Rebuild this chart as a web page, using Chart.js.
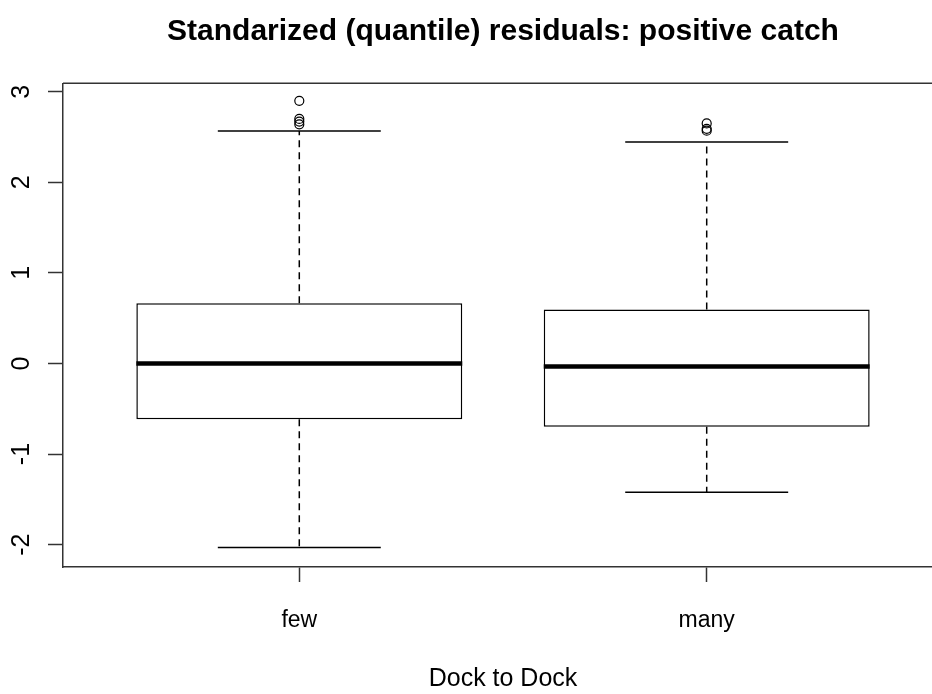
<!DOCTYPE html>
<html>
<head>
<meta charset="utf-8">
<title>Standarized (quantile) residuals: positive catch</title>
<script src="https://cdn.jsdelivr.net/npm/chart.js@4/dist/chart.umd.min.js"></script>
<style>
  html, body { margin: 0; padding: 0; background: #fff; overflow: hidden; }
  canvas { display: block; }
</style>
</head>
<body>
<canvas id="grafico" width="1000" height="694"></canvas>
<script>
// boxplot data: one entry per group
const groups = ['few', 'many'];
const positions = [1, 2];
const lowerWhisker = [-2.033, -1.422];
const q1 = [-0.615, -0.700];
const medians = [0.0, -0.033];
const q3 = [0.666, 0.597];
const upperWhisker = [2.566, 2.445];
const outliersFew = [2.90, 2.70, 2.67, 2.64];
const outliersMany = [2.65, 2.59, 2.57];
const yTicks = [-2, -1, 0, 1, 2, 3];

const boxHalf = 0.4;   // half box width, in x units
const capHalf = 0.2;   // half staple width
const axisColor = '#333';

Chart.defaults.font.family = "'Liberation Sans', Arial, sans-serif";
Chart.defaults.color = '#000';

function line(ctx, x1, y1, x2, y2) {
  ctx.beginPath();
  ctx.moveTo(x1, y1);
  ctx.lineTo(x2, y2);
  ctx.stroke();
}

// whiskers, staples, medians and the top edge of the frame
const boxExtras = {
  id: 'boxExtras',
  beforeDatasetsDraw(chart) {
    const { ctx, scales: { x, y } } = chart;
    ctx.save();
    ctx.strokeStyle = '#000';
    ctx.lineWidth = 1.5;
    positions.forEach((pos, i) => {
      const cx = x.getPixelForValue(pos);
      const left = x.getPixelForValue(pos - capHalf);
      const right = x.getPixelForValue(pos + capHalf);
      const yHi = y.getPixelForValue(upperWhisker[i]);
      const yLo = y.getPixelForValue(lowerWhisker[i]);
      ctx.setLineDash([7, 5]);
      line(ctx, cx, y.getPixelForValue(q3[i]), cx, yHi);
      line(ctx, cx, y.getPixelForValue(q1[i]), cx, yLo);
      ctx.setLineDash([]);
      line(ctx, left, yHi, right, yHi);
      line(ctx, left, yLo, right, yLo);
    });
    ctx.restore();
  },
  afterDatasetsDraw(chart) {
    const { ctx, chartArea, scales: { x, y } } = chart;
    ctx.save();
    ctx.strokeStyle = '#000';
    ctx.lineWidth = 4.5;
    ctx.lineCap = 'butt';
    positions.forEach((pos, i) => {
      const ym = y.getPixelForValue(medians[i]);
      line(ctx, x.getPixelForValue(pos - boxHalf), ym, x.getPixelForValue(pos + boxHalf), ym);
    });
    ctx.strokeStyle = axisColor;
    ctx.lineWidth = 1.5;
    line(ctx, chartArea.left, chartArea.top, chartArea.right, chartArea.top);
    ctx.restore();
  }
};

const boxes = positions.map((p, i) => ({ x: p, y: [q1[i], q3[i]] }));
const outliers = [
  ...outliersFew.map(v => ({ x: positions[0], y: v })),
  ...outliersMany.map(v => ({ x: positions[1], y: v }))
];

new Chart(document.getElementById('grafico'), {
  type: 'scatter',
  data: {
    datasets: [
      {
        type: 'bar',
        data: boxes,
        backgroundColor: '#fff',
        borderColor: '#000',
        borderWidth: 1.5,
        borderSkipped: false,
        barPercentage: 1,
        categoryPercentage: 0.8,
        order: 2
      },
      {
        type: 'scatter',
        data: outliers,
        pointRadius: 4.5,
        pointBorderWidth: 1.2,
        pointBorderColor: '#000',
        pointBackgroundColor: 'rgba(0,0,0,0)',
        order: 1
      }
    ]
  },
  options: {
    responsive: false,
    animation: false,
    devicePixelRatio: 1,
    layout: { padding: { left: 0, right: 57, top: 0, bottom: 0 } },
    plugins: {
      legend: { display: false },
      tooltip: { enabled: false },
      title: {
        display: true,
        fullSize: false,
        text: 'Standarized (quantile) residuals: positive catch',
        color: '#000',
        font: { size: 30, weight: 'bold' },
        padding: { top: 14, bottom: 33.3 }
      }
    },
    scales: {
      x: {
        type: 'linear',
        min: 0.42,
        max: 2.58,
        offset: false,
        afterBuildTicks: s => { s.ticks = positions.map(v => ({ value: v })); },
        afterFit: s => { s.height = 127; },
        ticks: {
          callback: v => groups[positions.indexOf(v)],
          font: { size: 23 },
          padding: 25,
          autoSkip: false,
          maxRotation: 0
        },
        grid: { offset: false, drawOnChartArea: false, tickLength: 15, tickColor: axisColor, tickWidth: 1.5 },
        border: { color: axisColor, width: 1.5 },
        title: {
          display: true,
          text: 'Dock to Dock',
          font: { size: 25 },
          padding: { top: 0, bottom: 0 }
        }
      },
      y: {
        type: 'linear',
        min: -2.247,
        max: 3.093,
        afterBuildTicks: s => { s.ticks = yTicks.map(v => ({ value: v })); },
        afterFit: s => { s.width = 63; },
        ticks: {
          font: { size: 25 },
          padding: 15,
          minRotation: 90,
          maxRotation: 90,
          crossAlign: 'center'
        },
        grid: { drawOnChartArea: false, tickLength: 15, tickColor: axisColor, tickWidth: 1.5 },
        border: { color: axisColor, width: 1.5 }
      }
    }
  },
  plugins: [boxExtras]
});
</script>
</body>
</html>
